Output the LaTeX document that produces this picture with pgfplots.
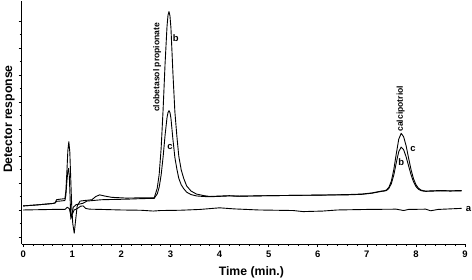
\documentclass[border=0pt]{standalone}
\usepackage{fontspec}
\setmainfont{Liberation Sans}
\usepackage{pgfplots}
\pgfplotsset{compat=1.18}
\begin{document}
\begin{tikzpicture}
\useasboundingbox (-21.7bp,-36bp) rectangle (450.3bp,244bp);
\begin{axis}[
 at={(0,0)}, anchor=south west,
 scale only axis, width=443.3bp, height=243bp,
 xmin=-0.03, xmax=9, ymin=-1.26, ymax=7.74,
 axis x line=bottom, axis y line=left,
 axis line style={-, line width=0.8bp},
 xtick={0,...,9}, minor x tick num=4,
 ytick={-1,...,7}, minor y tick num=1, yticklabels={},
 tick align=outside, major tick length=3bp, minor tick length=2bp,
 tick style={line width=0.6bp, black},
 ticklabel style={font=\bfseries\fontsize{9.5}{10}\selectfont},
 /pgf/number format/assume math mode=true,
 xlabel={Time (min.)}, ylabel={Detector response},
 label style={font=\bfseries\fontsize{12.3}{14}\selectfont},
 xlabel style={at={(axis description cs:0.518,-0.115)}, anchor=center},
 ylabel style={at={(axis description cs:-0.028,0.514)}, anchor=center},
 clip=false,
]
% trace a (blank)
\addplot[black, mark=none, line width=0.9bp, line join=round] coordinates {
(0.00,0.00) (0.30,0.01) (0.60,0.02) (0.85,0.02) (0.90,0.10) (0.94,0.05)
(0.97,-0.20) (1.00,-0.15) (1.04,0.00) (1.10,0.05) (1.17,0.14) (1.22,0.15)
(1.27,0.06) (1.35,0.03) (1.60,0.02) (2.00,0.00) (2.40,-0.01) (2.65,-0.04)
(2.80,-0.02) (3.20,-0.01) (3.60,0.02) (4.00,0.08) (4.30,0.04) (4.80,0.00)
(5.50,-0.02) (5.70,-0.06) (6.10,-0.04) (6.40,0.00) (7.00,0.02) (7.60,0.03)
(7.75,-0.02) (7.85,0.02) (8.20,0.03) (8.30,-0.03) (8.45,0.02) (8.93,0.06)
};
% trace b
\addplot[black, mark=none, line width=0.9bp, line join=round] coordinates {
(0.00,0.15) (0.30,0.19) (0.60,0.24) (0.65,0.26) (0.68,0.38) (0.75,0.40)
(0.85,0.42) (0.87,0.70) (0.89,1.40) (0.91,2.20) (0.93,2.53) (0.95,2.15)
(0.97,1.10) (0.99,0.10) (1.01,-0.50) (1.04,-0.86) (1.07,-0.35) (1.10,0.15)
(1.16,0.33) (1.25,0.35)
(1.40,0.38) (1.48,0.50) (1.56,0.56) (1.65,0.52) (1.80,0.47) (2.10,0.44)
(2.40,0.45) (2.67,0.45)
(2.69,0.57) (2.73,0.80) (2.77,1.31) (2.81,2.27) (2.85,3.71) (2.89,5.40)
(2.93,6.80) (2.95,7.21) (2.97,7.35) (2.99,7.19) (3.01,6.74) (3.05,5.08)
(3.09,3.64) (3.13,2.75) (3.17,1.99) (3.22,1.48) (3.27,1.17) (3.33,0.89)
(3.42,0.70) (3.53,0.59) (3.67,0.535) (3.80,0.50)
(4.20,0.53) (4.40,0.51) (5.00,0.53) (6.00,0.55) (6.60,0.56) (6.90,0.58)
(7.10,0.62) (7.30,0.69)
(7.35,0.70) (7.40,0.72) (7.45,0.80) (7.50,0.98) (7.55,1.30) (7.60,1.75)
(7.65,2.16) (7.70,2.33) (7.75,2.23) (7.80,1.97) (7.85,1.64) (7.90,1.31)
(7.95,1.05) (8.00,0.87) (8.05,0.77) (8.10,0.72) (8.15,0.70) (8.20,0.69)
(8.50,0.71) (8.70,0.70) (8.93,0.71)
};
% trace c
\addplot[black, mark=none, line width=0.9bp, line join=round] coordinates {
(0.00,0.15) (0.30,0.19) (0.60,0.24) (0.65,0.26) (0.68,0.32) (0.75,0.33)
(0.85,0.35) (0.87,0.55) (0.89,1.05) (0.91,1.45) (0.925,1.54) (0.94,1.25)
(0.955,0.50) (0.97,-0.34) (0.99,-0.20) (1.02,0.10) (1.08,0.20) (1.15,0.22)
(1.22,0.25) (1.30,0.33)
(1.60,0.38) (2.10,0.40) (2.40,0.42) (2.67,0.43)
(2.69,0.49) (2.73,0.59) (2.77,0.84) (2.81,1.29) (2.85,1.96) (2.89,2.76)
(2.93,3.42) (2.95,3.61) (2.97,3.68) (2.99,3.61) (3.01,3.40) (3.05,2.62)
(3.09,1.95) (3.13,1.52) (3.17,1.17) (3.22,0.93) (3.27,0.79) (3.33,0.66)
(3.42,0.57) (3.53,0.52) (3.67,0.50) (3.80,0.49)
(4.20,0.52) (4.40,0.51) (5.00,0.53) (6.00,0.55) (6.60,0.57) (6.90,0.59)
(7.10,0.63) (7.30,0.70)
(7.35,0.71) (7.40,0.74) (7.45,0.84) (7.50,1.07) (7.55,1.50) (7.60,2.08)
(7.65,2.62) (7.70,2.84) (7.75,2.71) (7.80,2.38) (7.85,1.93) (7.90,1.50)
(7.95,1.16) (8.00,0.94) (8.05,0.81) (8.10,0.74) (8.15,0.715) (8.20,0.70)
(8.50,0.72) (8.70,0.71) (8.93,0.72)
};
\node[rotate=90, font=\bfseries\fontsize{8.6}{10}\selectfont] at (axis cs:2.73,5.28) {clobetasol propionate};
\node[rotate=90, font=\bfseries\fontsize{8.6}{10}\selectfont] at (axis cs:7.69,3.75) {calcipotriol};
\node[font=\bfseries\fontsize{9.5}{10}\selectfont, inner sep=0.5pt] at (axis cs:3.11,6.38) {b};
\node[font=\bfseries\fontsize{9.5}{10}\selectfont, fill=white, inner sep=0.5pt] at (axis cs:2.99,2.34) {c};
\node[font=\bfseries\fontsize{9.5}{10}\selectfont, fill=white, inner sep=0.5pt] at (axis cs:7.70,1.79) {b};
\node[font=\bfseries\fontsize{9.5}{10}\selectfont, inner sep=0.5pt] at (axis cs:7.94,2.25) {c};
\node[font=\bfseries\fontsize{9.5}{10}\selectfont, inner sep=0.5pt] at (axis cs:9.07,0.05) {a};
\end{axis}
\end{tikzpicture}
\end{document}
